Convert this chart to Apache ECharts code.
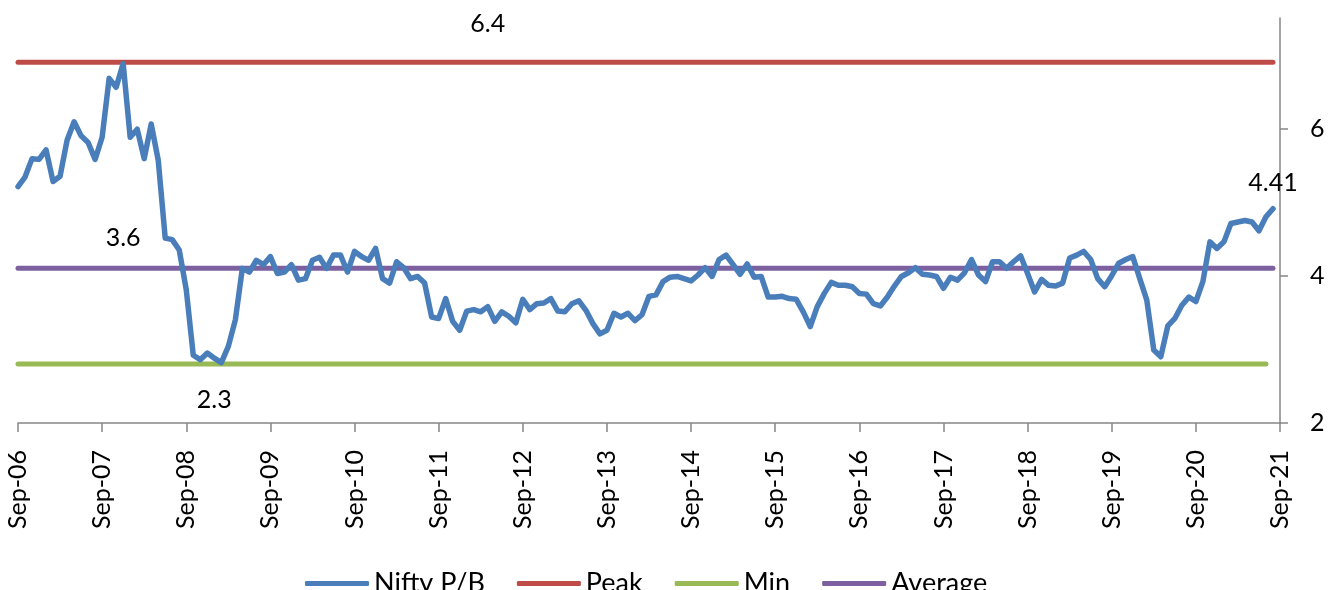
<!DOCTYPE html>
<html>
<head>
<meta charset="utf-8">
<title>Nifty P/B</title>
<script src="https://cdn.jsdelivr.net/npm/echarts@6/dist/echarts.min.js"></script>
<style>
  html, body { margin: 0; padding: 0; background: #ffffff; }
  #chart { width: 1338px; height: 590px; }
</style>
</head>
<body>
<div id="chart"></div>
<script>
// Monthly Nifty price-to-book, Sep-06 onwards
const startYear = 2006;
const startMonth = 8; // September (0-based)
const monthCount = 181; // Sep-06 .. Sep-21
const monthNames = ['Jan','Feb','Mar','Apr','May','Jun','Jul','Aug','Sep','Oct','Nov','Dec'];

const niftyPB = [
  4.71, 4.84, 5.09, 5.08, 5.21, 4.78, 4.85, 5.34, 5.59, 5.40, 5.31, 5.08,
  5.38, 6.18, 6.06, 6.38, 5.38, 5.49, 5.09, 5.56, 5.07, 4.01, 3.99, 3.85,
  3.31, 2.42, 2.36, 2.45, 2.38, 2.32, 2.54, 2.90, 3.60, 3.55, 3.71, 3.65,
  3.76, 3.53, 3.55, 3.65, 3.44, 3.46, 3.71, 3.75, 3.60, 3.78, 3.78, 3.55,
  3.83, 3.76, 3.71, 3.87, 3.46, 3.40, 3.69, 3.61, 3.46, 3.49, 3.40, 2.94,
  2.92, 3.19, 2.88, 2.76, 3.02, 3.04, 3.01, 3.08, 2.88, 3.01, 2.95, 2.86,
  3.18, 3.04, 3.12, 3.13, 3.19, 3.02, 3.01, 3.12, 3.16, 3.03, 2.85, 2.71,
  2.76, 2.99, 2.94, 2.99, 2.89, 2.97, 3.22, 3.24, 3.42, 3.48, 3.49, 3.46,
  3.43, 3.51, 3.61, 3.49, 3.72, 3.78, 3.65, 3.52, 3.66, 3.48, 3.49, 3.21,
  3.21, 3.22, 3.19, 3.18, 3.01, 2.81, 3.08, 3.26, 3.41, 3.37, 3.37, 3.35,
  3.26, 3.25, 3.12, 3.09, 3.21, 3.36, 3.49, 3.54, 3.61, 3.52, 3.51, 3.49,
  3.33, 3.48, 3.44, 3.54, 3.72, 3.51, 3.42, 3.69, 3.69, 3.60, 3.69, 3.77,
  3.53, 3.28, 3.45, 3.37, 3.36, 3.40, 3.74, 3.78, 3.83, 3.72, 3.46, 3.35,
  3.50, 3.67, 3.72, 3.76, 3.46, 3.17, 2.49, 2.40, 2.82, 2.92, 3.10, 3.21,
  3.15, 3.42, 3.96, 3.87, 3.96, 4.21, 4.23, 4.25, 4.23, 4.11, 4.30, 4.41
];

// Reference levels
const peakValue = 6.4;
const minValue = 2.3;
const averageValue = 3.6;
const peakLength = 180;
const averageLength = 180;
const minLength = 179;

// Points that carry a value label
const peakLabelIndex = 67;
const averageLabelIndex = 15;
const minLabelIndex = 28;
const niftyLabelIndex = niftyPB.length - 1;

// Right-hand scale labels
const rightTicks = [2, 4, 6];

const categories = [];
for (let i = 0; i < monthCount; i++) {
  const m = (startMonth + i) % 12;
  const y = startYear + Math.floor((startMonth + i) / 12);
  categories.push(monthNames[m] + '-' + String(y % 100).padStart(2, '0'));
}

const FONT = 'Lato';
const FS = 25;
const AXIS_GREY = '#868686';

const COLORS = {
  nifty: '#4A7EBB',
  peak: '#BE4B48',
  min: '#98B954',
  average: '#7D60A0'
};

const labelText = { color: '#000', fontFamily: FONT, fontSize: FS };

// A value label needs a symbol to hang on; give the labelled point an invisible one
function withLabel(values, idx, labelOpts) {
  return values.map((v, i) => i === idx ? {
    value: v,
    symbol: 'circle',
    symbolSize: 1,
    itemStyle: { color: 'rgba(0,0,0,0)', borderWidth: 0 },
    label: Object.assign({ show: true }, labelText, labelOpts)
  } : v);
}
function constant(v, n) {
  return new Array(n).fill(v);
}

function lineSeries(name, color, data, width) {
  return {
    name: name,
    type: 'line',
    yAxisIndex: 0,
    symbol: 'none',
    showSymbol: true,
    showAllSymbol: true,
    color: color,
    lineStyle: { color: color, width: width, cap: 'round', join: 'round' },
    labelLayout: { hideOverlap: false },
    data: data
  };
}

const chart = echarts.init(document.getElementById('chart'), null, { renderer: 'canvas' });

chart.setOption({
  animation: false,
  backgroundColor: '#ffffff',
  textStyle: { fontFamily: FONT },
  grid: { left: 18, right: 58, top: 18, bottom: 167, containLabel: false },
  legend: {
    left: 300,
    top: 565,
    selectedMode: false,
    icon: 'roundRect',
    itemWidth: 64,
    itemHeight: 5,
    itemGap: 32,
    textStyle: { color: '#000', fontFamily: FONT, fontSize: 27 },
    data: [
      { name: 'Nifty P/B', itemStyle: { color: COLORS.nifty } },
      { name: 'Peak', itemStyle: { color: COLORS.peak } },
      { name: 'Min', itemStyle: { color: COLORS.min } },
      { name: 'Average', itemStyle: { color: COLORS.average } }
    ]
  },
  xAxis: {
    type: 'category',
    data: categories,
    boundaryGap: false,
    axisLine: { show: true, lineStyle: { color: AXIS_GREY, width: 1.5 } },
    axisTick: { show: true, interval: 11, length: 9, lineStyle: { color: AXIS_GREY, width: 1.5 } },
    axisLabel: {
      interval: 11,
      rotate: 90,
      margin: 27,
      color: '#000',
      fontFamily: FONT,
      fontSize: FS
    },
    splitLine: { show: false }
  },
  yAxis: [
    {
      type: 'value',
      min: 1.5,
      max: 7,
      show: false,
      splitLine: { show: false }
    },
    {
      type: 'value',
      position: 'right',
      min: 2,
      max: 7.5,
      interval: 2,
      axisLine: { show: true, lineStyle: { color: AXIS_GREY, width: 1.5 } },
      axisTick: { show: true, length: 8, customValues: rightTicks, lineStyle: { color: AXIS_GREY, width: 1.5 } },
      axisLabel: {
        margin: 30,
        color: '#000',
        fontFamily: FONT,
        fontSize: FS,
        showMaxLabel: false,
        formatter: function (v) { return rightTicks.indexOf(v) >= 0 ? String(v) : ''; }
      },
      splitLine: { show: false }
    }
  ],
  series: [
    Object.assign(lineSeries('Nifty P/B', COLORS.nifty,
      withLabel(niftyPB, niftyLabelIndex, { position: 'top', distance: 13, offset: [-12, 0] }), 5.5), { z: 5 }),
    lineSeries('Peak', COLORS.peak,
      withLabel(constant(peakValue, peakLength), peakLabelIndex, { position: 'top', distance: 25 }), 5),
    lineSeries('Min', COLORS.min,
      withLabel(constant(minValue, minLength), minLabelIndex, { position: 'bottom', distance: 23 }), 5),
    lineSeries('Average', COLORS.average,
      withLabel(constant(averageValue, averageLength), averageLabelIndex, { position: 'top', distance: 17 }), 5)
  ]
});
</script>
</body>
</html>
